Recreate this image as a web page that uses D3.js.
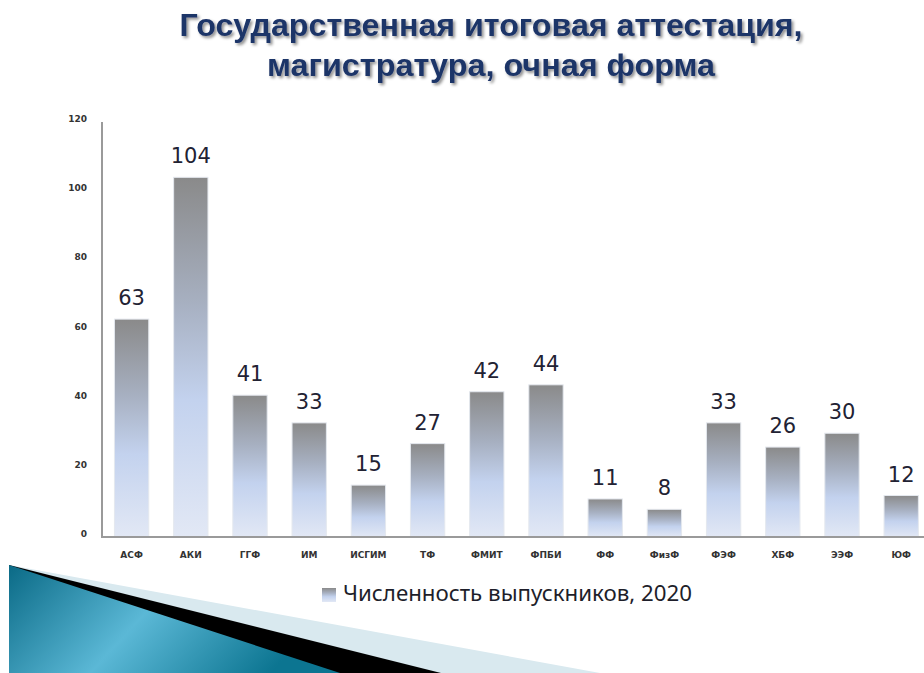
<!DOCTYPE html>
<meta charset="utf-8">
<style>
    body { margin: 0; background: #fff; }
    svg { display: block; }
</style>
<script src="https://cdn.jsdelivr.net/npm/d3@7"></script>
<svg width="924" height="673"></svg>
<script>
    // data
    var categories = ["АСФ", "АКИ", "ГГФ", "ИМ", "ИСГИМ", "ТФ", "ФМИТ", "ФПБИ", "ФФ", "ФизФ", "ФЭФ", "ХБФ", "ЭЭФ", "ЮФ"];
    var values = [63, 104, 41, 33, 15, 27, 42, 44, 11, 8, 33, 26, 30, 12];
    var yTicks = [0, 20, 40, 60, 80, 100, 120];
    var seriesName = "Численность выпускников, 2020";
    var titleLines = ["Государственная итоговая аттестация,", "магистратура, очная форма"];

    var svg = d3.select("svg"),
        width = +svg.attr("width"),
        height = +svg.attr("height");

    var defs = svg.append("defs");

    // bar fill: gray on top fading to pale blue
    var grad = defs.append("linearGradient")
        .attr("id", "barGrad")
        .attr("x1", 0).attr("y1", 0).attr("x2", 0).attr("y2", 1);
    grad.append("stop").attr("offset", "0%").attr("stop-color", "#8a8a8a");
    grad.append("stop").attr("offset", "35%").attr("stop-color", "#a7b0c1");
    grad.append("stop").attr("offset", "62%").attr("stop-color", "#c3d2ee");
    grad.append("stop").attr("offset", "100%").attr("stop-color", "#e2e8f5");

    var teal = defs.append("linearGradient")
        .attr("id", "tealGrad")
        .attr("x1", 0).attr("y1", 0).attr("x2", 1).attr("y2", 0.3);
    teal.append("stop").attr("offset", "0%").attr("stop-color", "#0a6a86");
    teal.append("stop").attr("offset", "50%").attr("stop-color", "#5bb8d6");
    teal.append("stop").attr("offset", "100%").attr("stop-color", "#0c7591");

    var shadow = defs.append("filter").attr("id", "shadow")
        .attr("x", "-5%").attr("y", "-20%").attr("width", "110%").attr("height", "150%");
    shadow.append("feDropShadow")
        .attr("dx", 2).attr("dy", 2).attr("stdDeviation", 1.5)
        .attr("flood-color", "#000").attr("flood-opacity", 0.45);

    // title
    var title = svg.append("g").attr("filter", "url(#shadow)");
    title.selectAll("text")
        .data(titleLines)
        .enter().append("text")
        .attr("x", 491)
        .attr("y", function (d, i) { return 36 + i * 40; })
        .attr("text-anchor", "middle")
        .attr("font-family", "'Liberation Sans Narrow', 'Liberation Sans', sans-serif")
        .attr("font-weight", "bold")
        .attr("font-size", "32px")
        .attr("fill", "#1f3568")
        .attr("textLength", function (d, i) { return i === 0 ? 623 : 448; })
        .attr("lengthAdjust", "spacingAndGlyphs")
        .text(function (d) { return d; });

    // scales
    var x = d3.scaleBand()
        .domain(categories)
        .range([102, 102 + 14 * 59.2])
        .paddingInner(0.42)
        .paddingOuter(0.21);

    var y = d3.scaleLinear()
        .domain([0, 120])
        .range([537, 122]);

    var g = svg.append("g");

    // bars
    g.selectAll(".bar")
        .data(values)
        .enter().append("rect")
        .attr("class", "bar")
        .attr("x", function (d, i) { return x(categories[i]); })
        .attr("y", function (d) { return y(d); })
        .attr("width", x.bandwidth())
        .attr("height", function (d) { return y(0) - y(d); })
        .attr("fill", "url(#barGrad)")
        .attr("stroke", "#e4e8ee")
        .attr("stroke-width", 1);

    // value labels
    g.selectAll(".val")
        .data(values)
        .enter().append("text")
        .attr("class", "val")
        .attr("x", function (d, i) { return x(categories[i]) + x.bandwidth() / 2; })
        .attr("y", function (d) { return y(d) - 14; })
        .attr("text-anchor", "middle")
        .attr("font-family", "'DejaVu Sans', sans-serif")
        .attr("font-size", "21px")
        .attr("fill", "#222233")
        .text(function (d) { return d; });

    // y axis
    g.append("line")
        .attr("x1", 102).attr("x2", 102)
        .attr("y1", y(120)).attr("y2", y(0))
        .attr("stroke", "#9a9a9a").attr("stroke-width", 2);

    g.append("line")
        .attr("x1", 101).attr("x2", width)
        .attr("y1", y(0)).attr("y2", y(0))
        .attr("stroke", "#9a9a9a").attr("stroke-width", 2);

    g.selectAll(".ytick")
        .data(yTicks)
        .enter().append("text")
        .attr("class", "ytick")
        .attr("x", 87)
        .attr("y", function (d) { return y(d); })
        .attr("text-anchor", "end")
        .attr("font-family", "'DejaVu Sans', sans-serif")
        .attr("font-weight", "bold")
        .attr("font-size", "9px")
        .attr("fill", "#333")
        .text(function (d) { return d; });

    // category labels
    g.selectAll(".xlab")
        .data(categories)
        .enter().append("text")
        .attr("class", "xlab")
        .attr("x", function (d) { return x(d) + x.bandwidth() / 2; })
        .attr("y", 558)
        .attr("text-anchor", "middle")
        .attr("font-family", "'DejaVu Sans', sans-serif")
        .attr("font-weight", "bold")
        .attr("font-size", "9px")
        .attr("fill", "#333")
        .text(function (d) { return d; });

    // legend
    var legend = svg.append("g");
    legend.append("rect")
        .attr("x", 322).attr("y", 588)
        .attr("width", 14).attr("height", 14)
        .attr("fill", "url(#barGrad)");
    legend.append("text")
        .attr("x", 343).attr("y", 601)
        .attr("font-family", "'Noto Sans', sans-serif")
        .attr("font-size", "21px")
        .attr("fill", "#1e1e2a")
        .attr("textLength", 349)
        .attr("lengthAdjust", "spacingAndGlyphs")
        .text(seriesName);

    // slide decoration in the lower left corner
    var deco = svg.append("g");
    deco.append("polygon")
        .attr("points", "9,565 600,673 9,673")
        .attr("fill", "#d9e9ef");
    deco.append("polygon")
        .attr("points", "9,565 441,673 9,673")
        .attr("fill", "#000");
    deco.append("polygon")
        .attr("points", "9,565 340,673 9,673")
        .attr("fill", "url(#tealGrad)");
</script>
